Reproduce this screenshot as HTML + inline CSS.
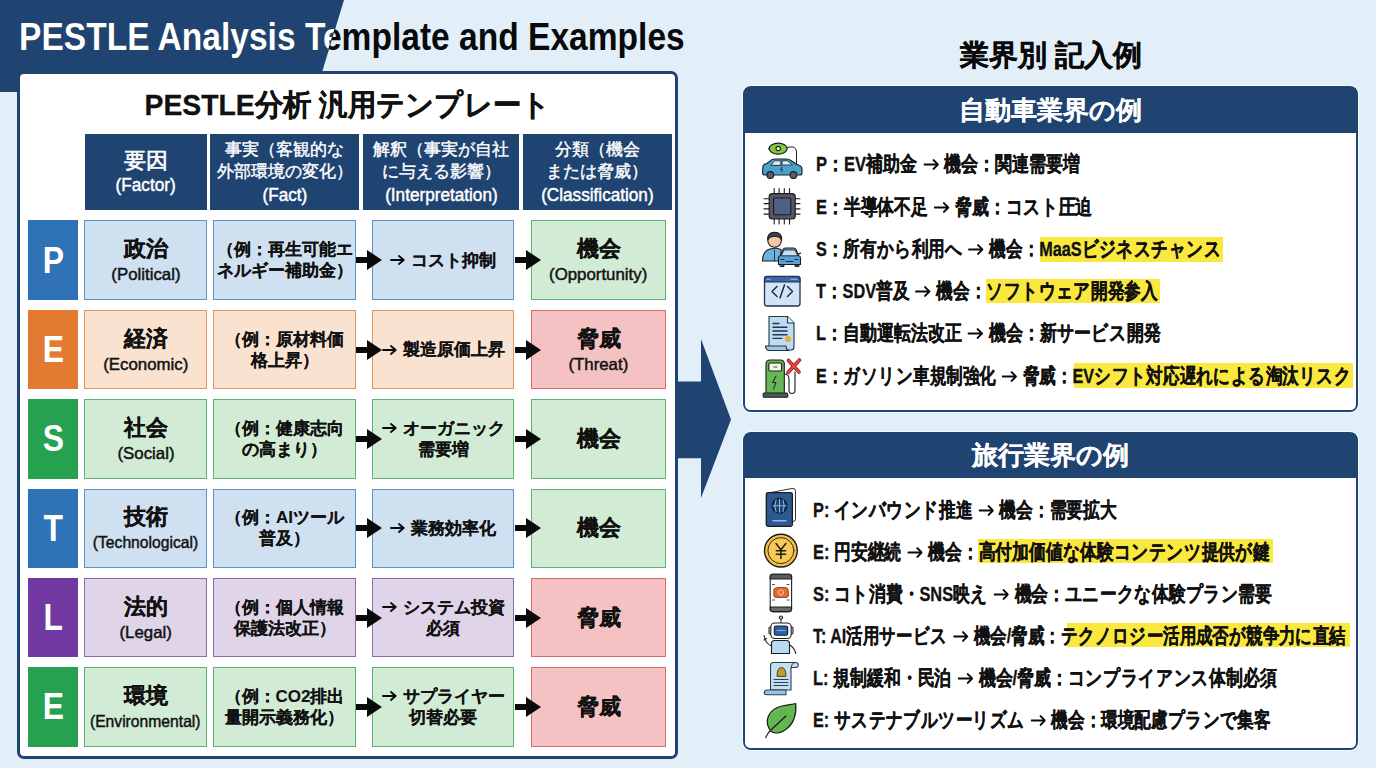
<!DOCTYPE html>
<html><head><meta charset="utf-8">
<style>
*{box-sizing:border-box;margin:0;padding:0}
html,body{width:1376px;height:768px;overflow:hidden}
body{position:relative;background:#e2eff9;font-family:"Liberation Sans",sans-serif;color:#111}
.abs{position:absolute}
.stk,.item,#lptitle{-webkit-text-stroke:0.32px currentColor}
.big{-webkit-text-stroke:0.22px currentColor}
.fact,.intp{-webkit-text-stroke:0.1px currentColor}
.rph{-webkit-text-stroke:0.12px currentColor}
.hd{-webkit-text-stroke:0.4px currentColor;font-weight:400 !important}
.hen{-webkit-text-stroke:0.45px currentColor}
.en{-webkit-text-stroke:0.45px currentColor}
#banner{left:0;top:0;width:360px;height:92px;background:#1f4471;clip-path:polygon(0 0,344px 0,316px 92px,0 92px)}
.ttl{position:absolute;left:19px;top:15px;font-size:38.5px;font-weight:700;white-space:nowrap;transform-origin:0 0;transform:scaleX(0.8715);letter-spacing:0}
#ttlw{color:#fff}
#ttlb{color:#0a0a0a}
#lp{left:17px;top:70.5px;width:661px;height:688px;background:#fff;border:3px solid #1f4471;border-radius:7px}
#lptitle{left:17px;width:661px;top:87px;text-align:center;font-size:30px;line-height:36px;font-weight:700;white-space:nowrap;transform:scaleX(0.944)}
.hd{position:absolute;top:134.4px;height:76px;background:#1f4471;color:#fff;display:flex;flex-direction:column;align-items:center;justify-content:center;text-align:center;font-weight:700;font-size:17px;line-height:22.5px}
.cell{position:absolute;height:79.5px;border:1.5px solid;display:flex;flex-direction:column;align-items:center;justify-content:center;text-align:center;font-weight:700}
.let{position:absolute;left:27.8px;width:50.2px;height:79.5px;color:#fff;font-size:37px;font-weight:700;display:flex;align-items:center;justify-content:center}
.let span{display:inline-block;transform:scaleX(0.86);position:relative;top:0.5px}
.ar2{display:inline-block;width:15px;height:10px;margin-right:6px;vertical-align:middle;position:relative;top:-1px}
.hen{font-size:17.5px;font-weight:400;transform:scaleX(0.98)}
.big{font-size:22px;line-height:26px}
.en{font-size:16.5px;line-height:20px;font-weight:400;margin-top:2px;transform:scaleX(1.02)}
.fact{font-size:17px;line-height:21px}
.intp{font-size:17px;line-height:21px}
.bl{background:#cfe0f0;border-color:#5b93c9}
.or{background:#fae2d0;border-color:#e0975e}
.gr{background:#d2ebd5;border-color:#5db372}
.pu{background:#dfd4e8;border-color:#8a6aa8}
.pk{background:#f4c2c2;border-color:#d86a6a}
.arr{position:absolute;width:26px;height:20px}
#bigarr{left:676px;top:339px;width:56px;height:160px}
.rp{position:absolute;left:742.5px;width:615.7px;background:#1f4471;border:2.8px solid #1f4471;border-radius:8px;box-shadow:0 0 0 1px rgba(255,255,255,0.7)}
.rpb{position:absolute;left:0;right:0;bottom:0;background:#fff;border-radius:0 0 5.5px 5.5px}
.rph{position:absolute;left:0;top:0;right:0;background:#1f4471;color:#fff;font-weight:700;font-size:25.5px;text-align:center}
.item{position:absolute;font-size:20.5px;font-weight:700;white-space:nowrap;line-height:24px;transform-origin:0 50%}
.ar{display:inline-block;width:19.5px;height:11px;margin:0 7px 0 7.5px;vertical-align:middle;position:relative;top:-1px}
.hl{position:absolute;background:#fbe83e}
.ic{position:absolute}
</style></head><body>
<div id="banner" class="abs"></div>
<div id="ttlb" class="ttl">PESTLE Analysis Template and Examples</div>
<div class="abs" style="left:0;top:0;width:400px;height:92px;clip-path:polygon(0 0,343.6px 0,314.8px 92px,0 92px)"><div id="ttlw" class="ttl">PESTLE Analysis Template and Examples</div></div>

<div id="lp" class="abs"></div>
<div id="lptitle" class="abs">PESTLE分析 汎用テンプレート</div>

<div class="hd" style="left:84.5px;width:122px"><div style="font-size:22px;line-height:26px;-webkit-text-stroke:0.6px #fff">要因</div><div class="hen">(Factor)</div></div>
<div class="hd" style="left:210px;width:149px"><div>事実（客観的な</div><div>外部環境の変化）</div><div class="hen">(Fact)</div></div>
<div class="hd" style="left:363px;width:156px"><div>解釈（事実が自社</div><div>に与える影響）</div><div class="hen">(Interpretation)</div></div>
<div class="hd" style="left:522.5px;width:149px"><div>分類（機会</div><div>または脅威）</div><div class="hen">(Classification)</div></div>

<!-- ROWS -->
<div class="let" style="top:220.4px;background:#2f72b5"><span>P</span></div>
<div class="cell bl" style="left:84.2px;width:122.8px;top:220.4px"><div class="big">政治</div><div class="en">(Political)</div></div>
<div class="cell bl fact" style="left:213px;width:143px;top:220.4px"><div>（例：再生可能エ</div><div>ネルギー補助金）</div></div>
<div class="cell bl intp" style="left:372.3px;width:142.2px;top:220.4px"><div><svg class="ar2" viewBox="0 0 15 10"><path d="M1 5H13.5M9 1L13.7 5L9 9" fill="none" stroke="#0a0a0a" stroke-width="1.9" stroke-linecap="round" stroke-linejoin="round"/></svg>コスト抑制</div></div>
<div class="cell gr" style="left:531.4px;width:134.3px;top:220.4px"><div class="big">機会</div><div class="en">(Opportunity)</div></div>
<svg class="arr" style="left:355.5px;top:250.1px" viewBox="0 0 26 20"><path d="M0 7H11V0L26 10L11 20V13H0Z" fill="#0a0a0a"/></svg>
<svg class="arr" style="left:514.5px;top:250.1px" viewBox="0 0 26 20"><path d="M0 7H11V0L26 10L11 20V13H0Z" fill="#0a0a0a"/></svg>
<div class="let" style="top:309.8px;background:#e27b31"><span>E</span></div>
<div class="cell or" style="left:84.2px;width:122.8px;top:309.8px"><div class="big">経済</div><div class="en">(Economic)</div></div>
<div class="cell or fact" style="left:213px;width:143px;top:309.8px"><div>（例：原材料価</div><div>格上昇）</div></div>
<div class="cell or intp" style="left:372.3px;width:142.2px;top:309.8px"><div><svg class="ar2" viewBox="0 0 15 10"><path d="M1 5H13.5M9 1L13.7 5L9 9" fill="none" stroke="#0a0a0a" stroke-width="1.9" stroke-linecap="round" stroke-linejoin="round"/></svg>製造原価上昇</div></div>
<div class="cell pk" style="left:531.4px;width:134.3px;top:309.8px"><div class="big">脅威</div><div class="en">(Threat)</div></div>
<svg class="arr" style="left:355.5px;top:339.5px" viewBox="0 0 26 20"><path d="M0 7H11V0L26 10L11 20V13H0Z" fill="#0a0a0a"/></svg>
<svg class="arr" style="left:514.5px;top:339.5px" viewBox="0 0 26 20"><path d="M0 7H11V0L26 10L11 20V13H0Z" fill="#0a0a0a"/></svg>
<div class="let" style="top:399.1px;background:#25a150"><span>S</span></div>
<div class="cell gr" style="left:84.2px;width:122.8px;top:399.1px"><div class="big">社会</div><div class="en">(Social)</div></div>
<div class="cell gr fact" style="left:213px;width:143px;top:399.1px"><div>（例：健康志向</div><div>の高まり）</div></div>
<div class="cell gr intp" style="left:372.3px;width:142.2px;top:399.1px"><div><svg class="ar2" viewBox="0 0 15 10"><path d="M1 5H13.5M9 1L13.7 5L9 9" fill="none" stroke="#0a0a0a" stroke-width="1.9" stroke-linecap="round" stroke-linejoin="round"/></svg>オーガニック</div><div>需要増</div></div>
<div class="cell gr" style="left:531.4px;width:134.3px;top:399.1px"><div class="big">機会</div></div>
<svg class="arr" style="left:355.5px;top:428.9px" viewBox="0 0 26 20"><path d="M0 7H11V0L26 10L11 20V13H0Z" fill="#0a0a0a"/></svg>
<svg class="arr" style="left:514.5px;top:428.9px" viewBox="0 0 26 20"><path d="M0 7H11V0L26 10L11 20V13H0Z" fill="#0a0a0a"/></svg>
<div class="let" style="top:488.5px;background:#2f72b5"><span>T</span></div>
<div class="cell bl" style="left:84.2px;width:122.8px;top:488.5px"><div class="big">技術</div><div class="en" style="transform:scaleX(0.95)">(Technological)</div></div>
<div class="cell bl fact" style="left:213px;width:143px;top:488.5px"><div>（例：AIツール</div><div>普及）</div></div>
<div class="cell bl intp" style="left:372.3px;width:142.2px;top:488.5px"><div><svg class="ar2" viewBox="0 0 15 10"><path d="M1 5H13.5M9 1L13.7 5L9 9" fill="none" stroke="#0a0a0a" stroke-width="1.9" stroke-linecap="round" stroke-linejoin="round"/></svg>業務効率化</div></div>
<div class="cell gr" style="left:531.4px;width:134.3px;top:488.5px"><div class="big">機会</div></div>
<svg class="arr" style="left:355.5px;top:518.2px" viewBox="0 0 26 20"><path d="M0 7H11V0L26 10L11 20V13H0Z" fill="#0a0a0a"/></svg>
<svg class="arr" style="left:514.5px;top:518.2px" viewBox="0 0 26 20"><path d="M0 7H11V0L26 10L11 20V13H0Z" fill="#0a0a0a"/></svg>
<div class="let" style="top:577.8px;background:#7038a0"><span>L</span></div>
<div class="cell pu" style="left:84.2px;width:122.8px;top:577.8px"><div class="big">法的</div><div class="en">(Legal)</div></div>
<div class="cell pu fact" style="left:213px;width:143px;top:577.8px"><div>（例：個人情報</div><div>保護法改正）</div></div>
<div class="cell pu intp" style="left:372.3px;width:142.2px;top:577.8px"><div><svg class="ar2" viewBox="0 0 15 10"><path d="M1 5H13.5M9 1L13.7 5L9 9" fill="none" stroke="#0a0a0a" stroke-width="1.9" stroke-linecap="round" stroke-linejoin="round"/></svg>システム投資</div><div>必須</div></div>
<div class="cell pk" style="left:531.4px;width:134.3px;top:577.8px"><div class="big">脅威</div></div>
<svg class="arr" style="left:355.5px;top:607.6px" viewBox="0 0 26 20"><path d="M0 7H11V0L26 10L11 20V13H0Z" fill="#0a0a0a"/></svg>
<svg class="arr" style="left:514.5px;top:607.6px" viewBox="0 0 26 20"><path d="M0 7H11V0L26 10L11 20V13H0Z" fill="#0a0a0a"/></svg>
<div class="let" style="top:667.2px;background:#25a150"><span>E</span></div>
<div class="cell gr" style="left:84.2px;width:122.8px;top:667.2px"><div class="big">環境</div><div class="en" style="transform:scaleX(0.95)">(Environmental)</div></div>
<div class="cell gr fact" style="left:213px;width:143px;top:667.2px"><div>（例：CO2排出</div><div>量開示義務化）</div></div>
<div class="cell gr intp" style="left:372.3px;width:142.2px;top:667.2px"><div><svg class="ar2" viewBox="0 0 15 10"><path d="M1 5H13.5M9 1L13.7 5L9 9" fill="none" stroke="#0a0a0a" stroke-width="1.9" stroke-linecap="round" stroke-linejoin="round"/></svg>サプライヤー</div><div>切替必要</div></div>
<div class="cell pk" style="left:531.4px;width:134.3px;top:667.2px"><div class="big">脅威</div></div>
<svg class="arr" style="left:355.5px;top:697.0px" viewBox="0 0 26 20"><path d="M0 7H11V0L26 10L11 20V13H0Z" fill="#0a0a0a"/></svg>
<svg class="arr" style="left:514.5px;top:697.0px" viewBox="0 0 26 20"><path d="M0 7H11V0L26 10L11 20V13H0Z" fill="#0a0a0a"/></svg>
<svg id="bigarr" class="abs" viewBox="0 0 56 160"><path d="M0 42.4H25V0L55 80.6L25 159V119.3H0Z" fill="#1f4471"/></svg>
<div class="abs stk" style="left:742.8px;width:615.6px;top:36px;text-align:center;font-size:29px;font-weight:700;white-space:nowrap;color:#0a0a0a">業界別 記入例</div>
<div class="rp" style="top:86px;height:326px"><div class="rph" style="height:44.5px;line-height:45px">自動車業界の例</div><div class="rpb" style="top:44.5px"></div></div>
<div class="rp" style="top:431.5px;height:318px"><div class="rph" style="height:44px;line-height:42px">旅行業界の例</div><div class="rpb" style="top:44px"></div></div>
<div class="item" id="it0" style="left:815.5px;top:152.0px;transform:scaleX(0.8076)">P：EV補助金<svg class="ar" viewBox="0 0 19.5 11" preserveAspectRatio="none"><path d="M1 5.5H18M12.5 1.2L18.2 5.5L12.5 9.8" fill="none" stroke="#0a0a0a" stroke-width="2.1" stroke-linecap="round" stroke-linejoin="round"/></svg>機会：関連需要増</div>
<div class="item" id="it1" style="left:815.5px;top:195.0px;transform:scaleX(0.8016)">E：半導体不足<svg class="ar" viewBox="0 0 19.5 11" preserveAspectRatio="none"><path d="M1 5.5H18M12.5 1.2L18.2 5.5L12.5 9.8" fill="none" stroke="#0a0a0a" stroke-width="2.1" stroke-linecap="round" stroke-linejoin="round"/></svg>脅威：コスト圧迫</div>
<div class="hl" style="left:1040.4px;top:237px;width:183.1px;height:24.5px"></div>
<div class="item" id="it2" style="left:815.5px;top:237.0px;transform:scaleX(0.7922)">S：所有から利用へ<svg class="ar" viewBox="0 0 19.5 11" preserveAspectRatio="none"><path d="M1 5.5H18M12.5 1.2L18.2 5.5L12.5 9.8" fill="none" stroke="#0a0a0a" stroke-width="2.1" stroke-linecap="round" stroke-linejoin="round"/></svg>機会：MaaSビジネスチャンス</div>
<div class="hl" style="left:986px;top:279px;width:174.0px;height:24.0px"></div>
<div class="item" id="it3" style="left:815.5px;top:279.0px;transform:scaleX(0.7929)">T：SDV普及<svg class="ar" viewBox="0 0 19.5 11" preserveAspectRatio="none"><path d="M1 5.5H18M12.5 1.2L18.2 5.5L12.5 9.8" fill="none" stroke="#0a0a0a" stroke-width="2.1" stroke-linecap="round" stroke-linejoin="round"/></svg>機会：ソフトウェア開発参入</div>
<div class="item" id="it4" style="left:815.5px;top:321.0px;transform:scaleX(0.8058)">L：自動運転法改正<svg class="ar" viewBox="0 0 19.5 11" preserveAspectRatio="none"><path d="M1 5.5H18M12.5 1.2L18.2 5.5L12.5 9.8" fill="none" stroke="#0a0a0a" stroke-width="2.1" stroke-linecap="round" stroke-linejoin="round"/></svg>機会：新サービス開発</div>
<div class="hl" style="left:1074px;top:363.4px;width:278.5px;height:24.6px"></div>
<div class="item" id="it5" style="left:815.5px;top:364.0px;transform:scaleX(0.7902)">E：ガソリン車規制強化<svg class="ar" viewBox="0 0 19.5 11" preserveAspectRatio="none"><path d="M1 5.5H18M12.5 1.2L18.2 5.5L12.5 9.8" fill="none" stroke="#0a0a0a" stroke-width="2.1" stroke-linecap="round" stroke-linejoin="round"/></svg>脅威：EVシフト対応遅れによる淘汰リスク</div>
<div class="item" id="it6" style="left:813.4px;top:497.5px;transform:scaleX(0.7962)">P: インバウンド推進<svg class="ar" viewBox="0 0 19.5 11" preserveAspectRatio="none"><path d="M1 5.5H18M12.5 1.2L18.2 5.5L12.5 9.8" fill="none" stroke="#0a0a0a" stroke-width="2.1" stroke-linecap="round" stroke-linejoin="round"/></svg>機会：需要拡大</div>
<div class="hl" style="left:978px;top:539px;width:295.0px;height:24.0px"></div>
<div class="item" id="it7" style="left:813.4px;top:540.0px;transform:scaleX(0.7994)">E: 円安継続<svg class="ar" viewBox="0 0 19.5 11" preserveAspectRatio="none"><path d="M1 5.5H18M12.5 1.2L18.2 5.5L12.5 9.8" fill="none" stroke="#0a0a0a" stroke-width="2.1" stroke-linecap="round" stroke-linejoin="round"/></svg>機会：高付加価値な体験コンテンツ提供が鍵</div>
<div class="item" id="it8" style="left:813.4px;top:582.0px;transform:scaleX(0.7988)">S: コト消費・SNS映え<svg class="ar" viewBox="0 0 19.5 11" preserveAspectRatio="none"><path d="M1 5.5H18M12.5 1.2L18.2 5.5L12.5 9.8" fill="none" stroke="#0a0a0a" stroke-width="2.1" stroke-linecap="round" stroke-linejoin="round"/></svg>機会：ユニークな体験プラン需要</div>
<div class="hl" style="left:1067px;top:623px;width:283.0px;height:24.0px"></div>
<div class="item" id="it9" style="left:813.4px;top:624.3px;transform:scaleX(0.7830)">T: AI活用サービス<svg class="ar" viewBox="0 0 19.5 11" preserveAspectRatio="none"><path d="M1 5.5H18M12.5 1.2L18.2 5.5L12.5 9.8" fill="none" stroke="#0a0a0a" stroke-width="2.1" stroke-linecap="round" stroke-linejoin="round"/></svg>機会/脅威：テクノロジー活用成否が競争力に直結</div>
<div class="item" id="it10" style="left:813.4px;top:666.0px;transform:scaleX(0.8038)">L: 規制緩和・民泊<svg class="ar" viewBox="0 0 19.5 11" preserveAspectRatio="none"><path d="M1 5.5H18M12.5 1.2L18.2 5.5L12.5 9.8" fill="none" stroke="#0a0a0a" stroke-width="2.1" stroke-linecap="round" stroke-linejoin="round"/></svg>機会/脅威：コンプライアンス体制必須</div>
<div class="item" id="it11" style="left:813.4px;top:707.5px;transform:scaleX(0.7914)">E: サステナブルツーリズム<svg class="ar" viewBox="0 0 19.5 11" preserveAspectRatio="none"><path d="M1 5.5H18M12.5 1.2L18.2 5.5L12.5 9.8" fill="none" stroke="#0a0a0a" stroke-width="2.1" stroke-linecap="round" stroke-linejoin="round"/></svg>機会：環境配慮プランで集客</div>
<!-- ICONS -->
<svg class="abs" style="left:750px;top:130px;width:60px;height:620px" viewBox="750 130 60 620">
<g stroke="#1c1c1c" stroke-width="1.1" stroke-linejoin="round" stroke-linecap="round">
<!-- car + charger -->
<path d="M784.5 148.5 C792 146 796 146 796.5 152 L796.5 165" fill="none" stroke-width="1"/>
<path d="M772 146 C769 146.5 768.5 148 768.5 149" fill="none" stroke-width="1"/>
<ellipse cx="778.2" cy="148.6" rx="9" ry="5.5" fill="#7ccd3c"/>
<circle cx="778.2" cy="148.6" r="2.2" fill="#eaf7d8"/>
<path d="M762.5 172 L763 166 Q764 163.8 767 163.5 L771.5 159.8 Q773 159 776 159 L786 159 Q789 159 791 160.5 L796 164 L799.5 165.5 Q802 166.5 802 169.5 L802 173 Q802 175 800 175 L764.5 175 Q762.5 175 762.5 172Z" fill="#4aa2cf"/>
<path d="M771 165 L774.5 160.8 L780.8 160.8 L780.8 165Z M782.3 160.8 L787.5 160.8 L792.5 165 L782.3 165Z" fill="#d6ebf6" stroke-width="0.8"/>
<path d="M782 167 l-1.5 2.5 h2 l-1 2.5" fill="none" stroke-width="0.8"/>
<circle cx="770.3" cy="175" r="3.4" fill="#5a5f66"/>
<circle cx="793.5" cy="175" r="3.4" fill="#5a5f66"/>
<!-- chip -->
<g stroke-width="1.1"><path d="M774.2 188.5v5 M779.1 188.5v5 M784.3 188.5v5 M789.5 188.5v5 M774.2 219v5 M779.1 219v5 M784.3 219v5 M789.5 219v5 M764 198.7h5 M764 203.6h5 M764 208.9h5 M764 214.1h5 M795 198.7h5 M795 203.6h5 M795 208.9h5 M795 214.1h5" fill="none"/></g>
<rect x="769.2" y="193.7" width="26" height="25.3" rx="3" fill="#54575f" stroke-width="1.2"/>
<rect x="773.6" y="198" width="17.2" height="16.7" rx="1" fill="#506089" stroke-width="1.1"/>
<!-- person + car -->
<path d="M762.5 261 Q762.5 251 770 249 L776 248 L781 249.5 L781 261Z" fill="#6db1e0"/>
<path d="M774.5 250 L774.5 261" stroke-width="0.8"/>
<circle cx="774.6" cy="240.5" r="6.8" fill="#f6c7a1"/>
<path d="M767.8 240 Q767 232.5 774.6 232.3 Q782.2 232.5 781.6 240 Q780 236 774.6 236.5 Q769.5 236 767.8 240Z" fill="#3c4450"/>
<path d="M780 265.5 V266.5 H784 V264.5 M795 264.5 V266.5 H799 V265" fill="#3b4b66" stroke-width="0.9"/>
<path d="M778.5 264.5 V258 Q778.5 256 780.5 255.5 L783 249.5 Q783.8 248 785.5 248 H793.5 Q795.2 248 796 249.5 L798.5 255.5 Q800.5 256 800.5 258 V264.5Z" fill="#5d9fd8"/>
<path d="M781.5 255.5 L784 250 H795 L797.5 255.5Z" fill="#c6e0f4" stroke-width="0.8"/>
<path d="M781 259.5 h3 M795 259.5 h3 M786 261.5 h7" stroke-width="0.9" fill="none"/>
<path d="M798.5 254 l2 -0.8" stroke-width="1.3"/>
<!-- browser -->
<rect x="764.5" y="276.5" width="35.5" height="29.5" rx="2.5" fill="#d0e4f6" stroke="#22314d" stroke-width="1.3"/>
<path d="M764.5 282 V279 Q764.5 276.5 767 276.5 H797.5 Q800 276.5 800 279 V282Z" fill="#3a66ad" stroke="#22314d"/><path d="M767 279.3 h3 M791 279.3 h6" stroke="#a9c6ea" stroke-width="0.9"/>
<path d="M777 286.5 L772 291.5 L777 296.5 M787.5 286.5 L792.5 291.5 L787.5 296.5 M784.5 285 L780 298" fill="none" stroke="#1a2130" stroke-width="1.4"/>
<!-- document -->
<path d="M769 316.5 H787.5 L794 323 V347 Q794 350 791 350 H769Z" fill="#bcdcf3" stroke="#2a3340"/>
<path d="M787.5 316.5 V323 H794" fill="#e8f2fa" stroke="#2a3340"/>
<path d="M765.5 346 Q765.5 350.5 770 350.5 H789 Q786 350 786 346Z" fill="#9cc8ea" stroke="#2a3340"/>
<path d="M773 323.5 h6 M773 327.3 h14 M773 331 h14 M773 334.7 h14 M773 338.4 h9" stroke="#253450" stroke-width="1.4" fill="none"/>
<circle cx="788" cy="339" r="3" fill="#f3a633" stroke="none"/>
<!-- EV charger -->
<path d="M784 374 Q789 374 789 379 L789 390 Q789 393.5 792 393.5 Q795 393.5 795 390 L795 372" fill="none" stroke-width="1.1"/>
<path d="M788.5 360.5 L799 372 M799.5 360 L788 372.5" stroke="#7a1f1a" stroke-width="3.6" fill="none"/><path d="M788.5 360.5 L799 372 M799.5 360 L788 372.5" stroke="#e8463f" stroke-width="2.4" fill="none"/>
<path d="M766 393.5 V364 Q766 360 770 360 H780.5 Q784.3 360 784.3 364 V393.5Z" fill="#66b755"/>
<rect x="768.8" y="363" width="12.8" height="8" rx="1.2" fill="#eef5ea"/>
<path d="M774 367 h3" stroke-width="0.8"/>
<path d="M776 376 L772.5 382.5 H776 L773.5 389" fill="none" stroke-width="1"/>
<rect x="763.2" y="393" width="24.5" height="4.3" rx="1" fill="#4e5a53"/>
<!-- passport -->
<path d="M771 492.5 L792 488.5 Q795.5 488 795.5 491 V519.5 Q795.5 521.5 793 521.5" fill="#fff" stroke-width="0.9"/>
<rect x="766.3" y="492.6" width="26.1" height="33.8" rx="1.8" fill="#2d5894" stroke-width="1.3"/>
<circle cx="779.5" cy="505.8" r="7.3" fill="#1f3f70" stroke="#0c1c36" stroke-width="1.4"/>
<path d="M772.8 505.8 h13.4 M779.5 499.2 v13.2 M776 499.8 Q773.6 505.8 776 511.8 M783 499.8 Q785.4 505.8 783 511.8" stroke="#8fb8e4" stroke-width="1" fill="none"/>
<path d="M773 520.7 h13" stroke="#8fb8e4" stroke-width="1.6"/>
<!-- coin -->
<circle cx="780.9" cy="550.6" r="16.4" fill="#f5c344" stroke-width="1.4"/>
<circle cx="780.9" cy="550.6" r="13" fill="#f8ca55" stroke-width="0.9"/>
<path d="M776 543.5 L780.9 549.8 L785.8 543.5 M780.9 549.8 V558.5 M776.3 550.8 h9.2 M776.3 554.3 h9.2" fill="none" stroke-width="1.5"/>
<!-- phone -->
<rect x="770.2" y="574.2" width="21.4" height="37.4" rx="2.5" fill="#ffffff" stroke="#222"/>
<path d="M770.2 579 V576.7 Q770.2 574.2 772.7 574.2 H789.1 Q791.6 574.2 791.6 576.7 V579Z" fill="#5b5b5b"/>
<path d="M770.2 607 V609.1 Q770.2 611.6 772.7 611.6 H789.1 Q791.6 611.6 791.6 609.1 V607Z" fill="#6a6a6a"/>
<path d="M774 589 Q775 587.5 778 587.5 H785 Q788 587.5 788.3 590 V596 Q788.3 597.5 786 597.5 H776 Q773.8 597.5 773.8 595.5Z" fill="#e36a2a" stroke="#7a3515" stroke-width="0.8"/>
<circle cx="781" cy="592.5" r="2.6" fill="none" stroke="#f7d2b8" stroke-width="0.9"/>
<path d="M772.5 584.5 h2 M787 584.5 h2 M772.5 600 h2 M787 600 h2" stroke-width="0.8"/>
<!-- robot -->
<path d="M781 619 v4" stroke-width="1"/>
<circle cx="781" cy="617.6" r="1.6" fill="#ddd"/>
<path d="M771.5 653.5 V643.5 Q771.5 640.5 774.5 640.5 H786.5 Q789.5 640.5 789.5 643.5 V653.5Z" fill="#b9daf0"/>
<path d="M789.5 645 Q794 647 795.8 653.5" fill="none"/>
<path d="M770.5 645.5 Q765.5 643 764 635.5 M764 640 l2.5 -1.5" fill="none"/>
<rect x="769" y="627" width="2.5" height="7" rx="1.2" fill="#fff"/>
<rect x="790.5" y="627" width="2.5" height="7" rx="1.2" fill="#fff"/>
<rect x="770.8" y="623" width="20.4" height="15.5" rx="4" fill="#fff"/>
<rect x="774.3" y="626" width="13.4" height="9.2" rx="1.8" fill="#2b5fa6"/>
<path d="M777 630.5 h8" stroke="#9cc4ec" stroke-width="0.8"/>
<!-- scroll -->
<path d="M770.5 690 V665.5 Q770.5 662.5 773.5 662.5 H795.5 Q798.3 662.5 798.3 665 Q798.3 667.5 795.5 667.5 H791 V690Z" fill="#c3dff2" stroke="#2f3d4f"/>
<path d="M791.5 667.5 Q791 663 795 662.5" fill="none" stroke-width="0.8"/>
<path d="M764.3 693 Q764.3 690 767 690 H786 V694.7 H767 Q764.3 694.7 764.3 693Z" fill="#98c4e5" stroke="#2f3d4f"/>
<path d="M777 676 Q777 667.5 781.5 667.5 Q786 667.5 786 676Z" fill="#c69b2a" stroke="#222" stroke-width="0.8"/>
<path d="M774 679.5 h14 M774 682.5 h14 M774 685.5 h14" stroke="#2f3d4f" stroke-width="1.1"/>
<!-- leaf -->
<path d="M771 731.5 C763 721 768.5 709 782 706 C788 704.6 792.5 704.5 795.7 703.5 C796.5 713 794.5 722.5 787 728.5 C781.5 733 775.5 734 771 731.5Z" fill="#62b84f" stroke-width="1.2"/>
<path d="M765.6 737.6 C767 734 769.3 731.2 772.2 728.8 L786 716" fill="none" stroke-width="1.2"/>
</g>
</svg>

<script>
(function(){
var ends=[1079.6,1091.8,1220.5,1157,1160,1350.5,1116.9,1270,1272.2,1346,1277,1271];
function fit(){
 var els=document.querySelectorAll('.item');
 for(var i=0;i<els.length&&i<ends.length;i++){var e=els[i];var old=e.style.transform;e.style.transform='none';var r=e.getBoundingClientRect();var sc=(ends[i]-r.left)/r.width;if(r.width>0&&sc>0.4&&sc<2){e.style.transform='scaleX('+sc.toFixed(4)+')';}else{e.style.transform=old;}}
 var t=document.querySelectorAll('.ttl');
 for(var j=0;j<t.length;j++){var e2=t[j];var o2=e2.style.transform;e2.style.transform='none';var r2=e2.getBoundingClientRect();var s2=665.7/r2.width;if(r2.width>0&&s2>0.5&&s2<1.5){e2.style.transform='scaleX('+s2.toFixed(4)+')';}else{e2.style.transform=o2;}}
}
fit();
if(document.fonts&&document.fonts.ready){document.fonts.ready.then(fit);}
})();
</script>
</body></html>
